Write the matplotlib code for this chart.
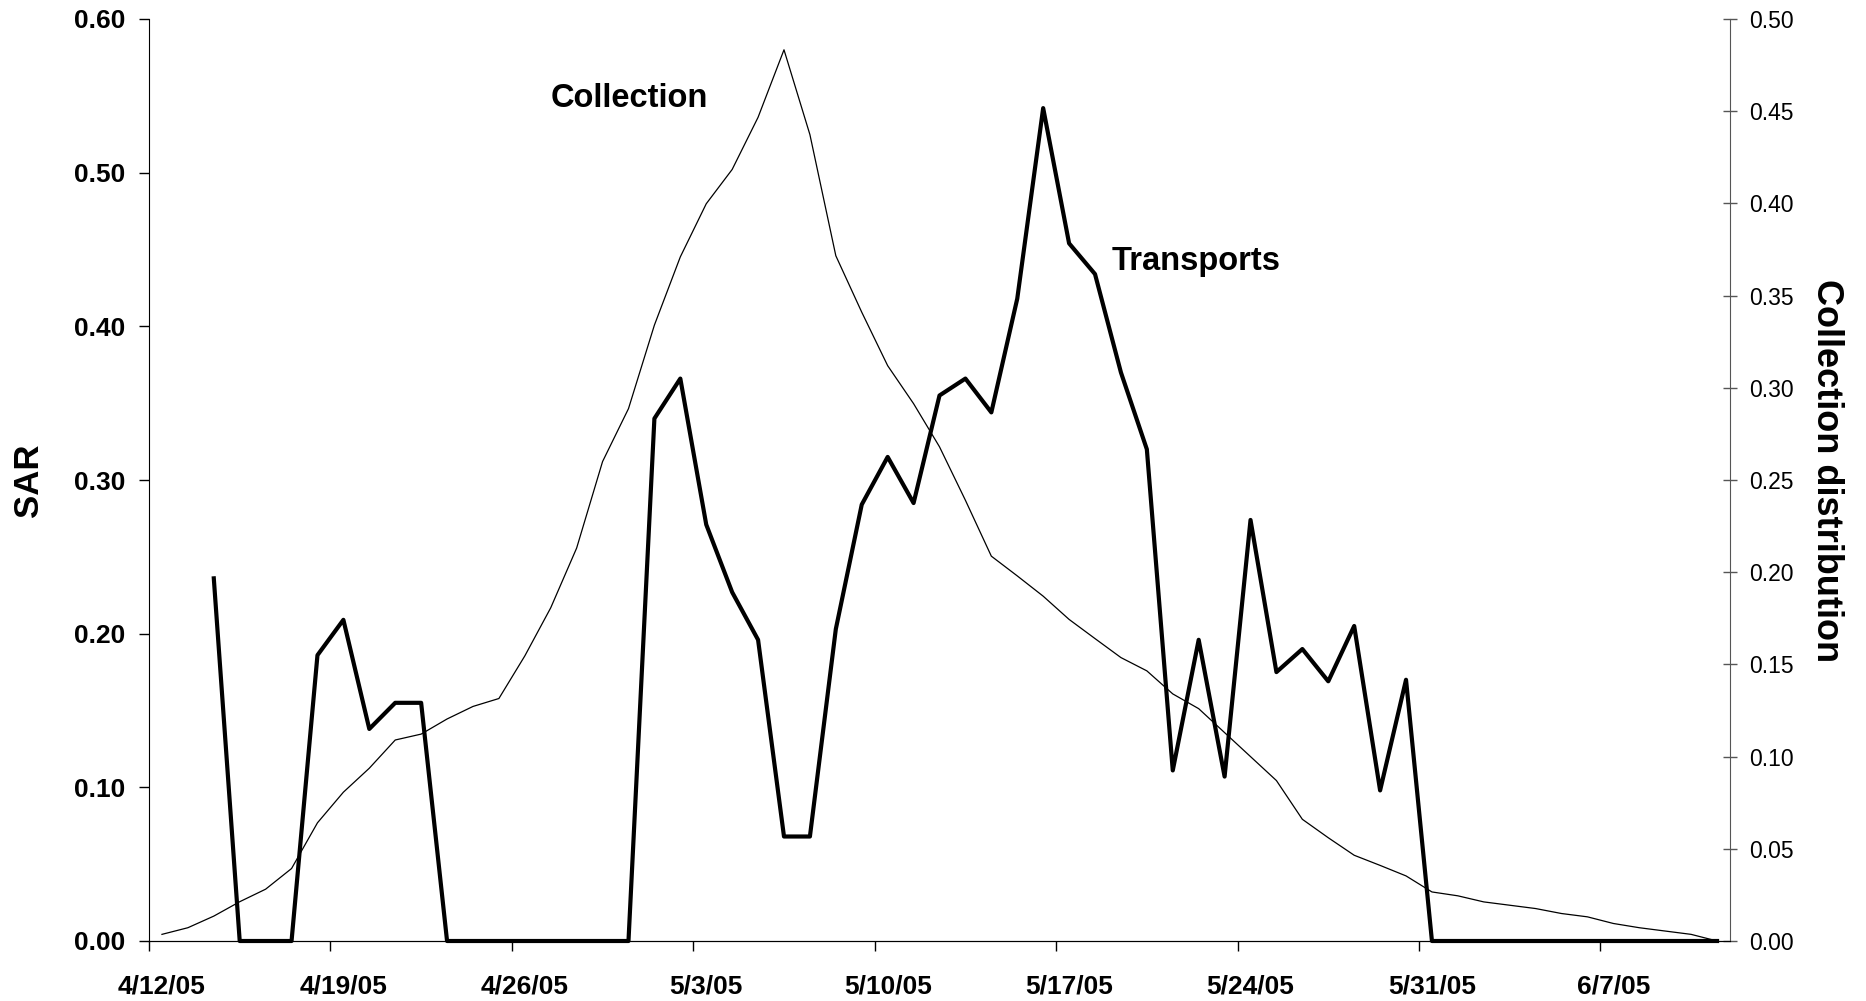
import numpy as np
import matplotlib
matplotlib.use('Agg')
from matplotlib import pyplot as plt

plt.rcParams['font.family'] = ['Liberation Sans', 'DejaVu Sans']

# one value per day, 4/12/05 .. 6/11/05
days = np.arange(61)
transport_sar = [np.nan, np.nan, 0.236, 0, 0, 0, 0.186, 0.209, 0.138, 0.155,
                 0.155, 0, 0, 0, 0, 0, 0, 0, 0, 0.340,
                 0.366, 0.271, 0.227, 0.196, 0.068, 0.068, 0.203, 0.284, 0.315, 0.285,
                 0.355, 0.366, 0.344, 0.418, 0.542, 0.454, 0.434, 0.370, 0.320, 0.111,
                 0.196, 0.107, 0.274, 0.175, 0.190, 0.169, 0.205, 0.098, 0.170, 0,
                 0, 0, 0, 0, 0, 0, 0, 0, 0, 0,
                 0]
collection = [0.0036, 0.0072, 0.0135, 0.0213, 0.0281, 0.0393, 0.0641, 0.0807, 0.0937, 0.109,
              0.1122, 0.1204, 0.1272, 0.1315, 0.1546, 0.1807, 0.2131, 0.260, 0.2887, 0.334,
              0.371, 0.3998, 0.4184, 0.4467, 0.4833, 0.4373, 0.3716, 0.341, 0.312, 0.2914,
              0.268, 0.239, 0.2087, 0.198, 0.187, 0.1744, 0.164, 0.1537, 0.1465, 0.134,
              0.126, 0.113, 0.100, 0.087, 0.066, 0.056, 0.0465, 0.041, 0.0353, 0.0266,
              0.0245, 0.0212, 0.0194, 0.0176, 0.0149, 0.0131, 0.0095, 0.0072, 0.0054, 0.0036,
              0.0]
tick_days = [0, 7, 14, 21, 28, 35, 42, 49, 56]
tick_labels = ['4/12/05', '4/19/05', '4/26/05', '5/3/05', '5/10/05',
               '5/17/05', '5/24/05', '5/31/05', '6/7/05']
sar_ticks = [0.0, 0.1, 0.2, 0.3, 0.4, 0.5, 0.6]
coll_ticks = [0.0, 0.05, 0.10, 0.15, 0.20, 0.25, 0.30, 0.35, 0.40, 0.45, 0.50]

fig = plt.figure(figsize=(18.66, 10.01), dpi=100)
ax = fig.add_axes([149/1866, 60/1001, (1730-149)/1866, (941-19)/1001])
ax2 = ax.twinx()

x = days + 0.5   # points sit in the middle of each day
ax.plot(x, transport_sar, color='black', lw=3.0, clip_on=False, zorder=3)
ax2.plot(x, collection, color='black', lw=0.9, clip_on=False, zorder=2)

ax.set_xlim(0, 61)
ax.set_ylim(0, 0.6)
ax2.set_ylim(0, 0.5)

for a in (ax, ax2):
    a.spines['top'].set_visible(False)
ax.spines['right'].set_visible(False)
ax2.spines['left'].set_visible(False)
ax2.spines['right'].set_color('#555555')

# date ticks, labels centred on the day
ax.set_xticks(tick_days)
ax.set_xticklabels([])
ax.set_xticks([d + 0.5 for d in tick_days], minor=True)
ax.set_xticklabels(tick_labels, minor=True, fontsize=19, fontweight='bold')
ax.tick_params(axis='x', which='major', direction='out', length=7, width=1)
ax.tick_params(axis='x', which='minor', length=0, pad=24)

ax.set_yticks(sar_ticks)
ax.set_yticklabels(['%.2f' % v for v in sar_ticks], fontsize=19, fontweight='bold')
ax.tick_params(axis='y', direction='out', length=7, width=1, pad=10)

ax2.set_yticks(coll_ticks)
ax2.set_yticklabels(['%.2f' % v for v in coll_ticks], fontsize=16.5)
ax2.tick_params(axis='y', direction='inout', length=10, width=1, pad=9, color='#555555')

ax.set_ylabel('SAR', fontsize=25, fontweight='bold', va='center', ha='center')
ax.yaxis.set_label_coords(-0.0765, 0.5)
ax2.set_ylabel('Collection distribution', fontsize=26, fontweight='bold',
               rotation=270, va='center', ha='center')
ax2.yaxis.set_label_coords(1.061, 0.51)

ax.text(18.55, 0.548, 'Collection', fontsize=23.5, fontweight='bold', ha='center', va='center')
ax.text(40.4, 0.4425, 'Transports', fontsize=23.5, fontweight='bold', ha='center', va='center')

fig.savefig('out.png', dpi=100)
